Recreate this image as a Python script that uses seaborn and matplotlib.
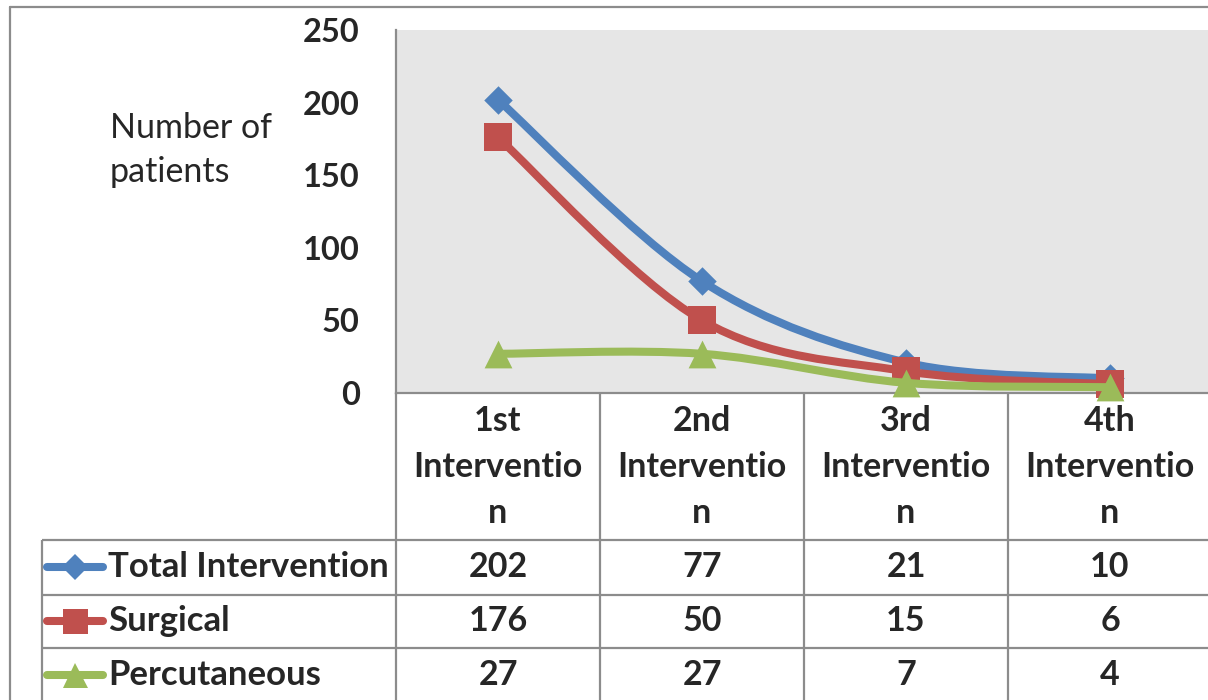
import numpy as np
import pandas as pd
import matplotlib
matplotlib.use("Agg")
import matplotlib.pyplot as plt
from matplotlib.path import Path
from matplotlib.patches import PathPatch
from matplotlib.lines import Line2D
from matplotlib.transforms import blended_transform_factory
import seaborn as sns

# ---- data -------------------------------------------------------------
categories = ["1st Intervention", "2nd Intervention", "3rd Intervention", "4th Intervention"]
header_lines = [["1st", "Interventio", "n"],
                ["2nd", "Interventio", "n"],
                ["3rd", "Interventio", "n"],
                ["4th", "Interventio", "n"]]
series_names = ["Total Intervention", "Surgical", "Percutaneous"]
total = [202, 77, 21, 10]
surgical = [176, 50, 15, 6]
percutaneous = [27, 27, 7, 4]
y_ticks = [0, 50, 100, 150, 200, 250]
y_label = "Number of\npatients"

series_values = [total, surgical, percutaneous]
colors = ["#4F81BD", "#C0504D", "#9BBB59"]
markers = ["D", "s", "^"]
marker_sizes = [14.5, 20, 20]

df = pd.DataFrame({
    "category": np.tile(categories, len(series_names)),
    "pos": np.tile(np.arange(len(categories)), len(series_names)),
    "series": np.repeat(series_names, len(categories)),
    "value": np.concatenate(series_values),
})

# ---- style ------------------------------------------------------------
sns.set_theme(style="white")
plt.rcParams["font.family"] = ["Lato", "DejaVu Sans"]

W, H = 1208, 700
fig = plt.figure(figsize=(W / 100, H / 100), dpi=100)
fig.patch.set_facecolor("white")

# plot area in pixel geometry
ax_left, ax_right, ax_top, ax_bottom = 396, 1212, 30, 393
ax = fig.add_axes([ax_left / W, 1 - ax_bottom / H,
                   (ax_right - ax_left) / W, (ax_bottom - ax_top) / H])
ax.set_facecolor("#E6E6E6")
ax.set_xlim(-0.5, len(categories) - 0.5)
ax.set_ylim(0, 250)

GRID = "#8C8C8C"
TXT = 24.5


def smooth_path(xs, ys):
    """Cubic Bezier through the points with Catmull-Rom style tangents."""
    pts = np.column_stack([xs, ys]).astype(float)
    n = len(pts)
    verts, codes = [pts[0]], [Path.MOVETO]
    for i in range(n - 1):
        p0 = pts[max(i - 1, 0)]
        p1, p2 = pts[i], pts[i + 1]
        p3 = pts[min(i + 2, n - 1)]
        verts += [p1 + (p2 - p0) / 6, p2 - (p3 - p1) / 6, p2]
        codes += [Path.CURVE4] * 3
    return Path(verts, codes)


for k, name in enumerate(series_names):
    sub = df[df["series"] == name]
    patch = PathPatch(smooth_path(sub["pos"], sub["value"]), fill=False,
                      edgecolor=colors[k], lw=5.8, capstyle="round",
                      joinstyle="round", zorder=2 + 3 * k)
    ax.add_patch(patch)
    sns.scatterplot(data=sub, x="pos", y="value", marker=markers[k],
                    color=colors[k], s=marker_sizes[k] ** 2, linewidth=0,
                    ax=ax, zorder=3 + 3 * k, legend=False, clip_on=False)

for side in ["top", "right"]:
    ax.spines[side].set_visible(False)
for side in ["left", "bottom"]:
    ax.spines[side].set_color(GRID)
    ax.spines[side].set_linewidth(1.6)

ax.set_xticks([])
ax.set_yticks(y_ticks)
ax.tick_params(axis="y", length=0, pad=26, labelsize=23.5)
for lbl in ax.get_yticklabels():
    lbl.set_fontweight("bold")
ax.set_xlabel("")
ax.set_ylabel(y_label, rotation=0, fontsize=TXT, ha="left", va="center",
              multialignment="left", linespacing=1.45)
ax.yaxis.set_label_coords((110 - ax_left) / (ax_right - ax_left),
                          (ax_bottom - 150) / (ax_bottom - ax_top))

# ---- data table below the plot ---------------------------------------
def fy(y_px):
    return 1 - y_px / H


def fx(x_px):
    return x_px / W


col_tr = blended_transform_factory(ax.transData, fig.transFigure)
row_edges = [540, 595, 648]
table_bottom = 700
legend_left = 42
col_edges = [i - 0.5 for i in range(1, len(categories))]

line_kw = dict(color=GRID, lw=1.6, solid_capstyle="butt")
for y in row_edges:
    fig.add_artist(Line2D([fx(legend_left), 1], [fy(y), fy(y)],
                          transform=fig.transFigure, **line_kw))
fig.add_artist(Line2D([fx(legend_left)] * 2, [fy(row_edges[0]), fy(table_bottom)],
                      transform=fig.transFigure, **line_kw))
fig.add_artist(Line2D([fx(ax_left)] * 2, [fy(ax_bottom), fy(table_bottom)],
                      transform=fig.transFigure, **line_kw))
for xe in col_edges:
    fig.add_artist(Line2D([xe, xe], [fy(ax_bottom), fy(table_bottom)],
                          transform=col_tr, **line_kw))

# outer frame of the chart
fig.add_artist(Line2D([fx(10), fx(10)], [fy(7), 0], transform=fig.transFigure,
                      color=GRID, lw=1.6))
fig.add_artist(Line2D([fx(10), 1], [fy(7), fy(7)], transform=fig.transFigure,
                      color=GRID, lw=1.6))

text_kw = dict(fontsize=TXT, fontweight="bold", ha="center", va="center")
header_y = [421, 467, 513]
for i, lines in enumerate(header_lines):
    for line, yp in zip(lines, header_y):
        fig.text(i, fy(yp), line, transform=col_tr, **text_kw)

row_centers = [567, 621, 675]
for k, name in enumerate(series_names):
    yc = fy(row_centers[k])
    for i, v in enumerate(series_values[k]):
        fig.text(i, yc, f"{v}", transform=col_tr, **text_kw)
    fig.text(fx(108), yc, name, transform=fig.transFigure, fontsize=TXT + 0.5,
             fontweight="bold", ha="left", va="center")
    fig.add_artist(Line2D([fx(47), fx(103)], [yc, yc], transform=fig.transFigure,
                          color=colors[k], lw=5.8, solid_capstyle="round"))
    fig.add_artist(Line2D([fx(75)], [yc], transform=fig.transFigure,
                          marker=markers[k], color=colors[k],
                          markersize=marker_sizes[k] * 0.9, markeredgewidth=0,
                          linestyle="none"))

fig.savefig("out.png", dpi=100, facecolor="white")
